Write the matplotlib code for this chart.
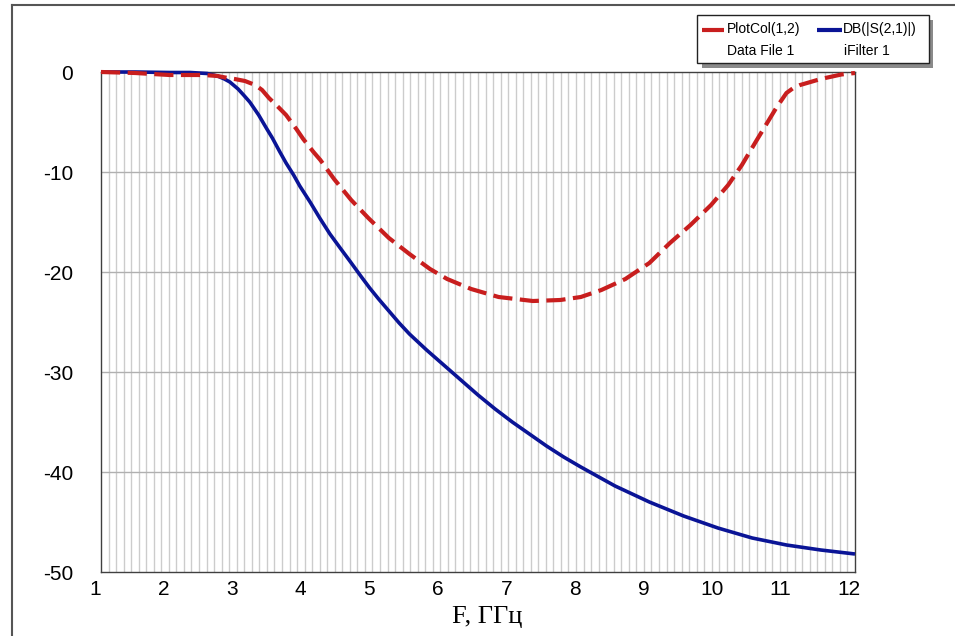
import numpy as np
import matplotlib
matplotlib.use("Agg")
import matplotlib.pyplot as plt
import matplotlib.transforms as mtransforms
from matplotlib.patches import Rectangle
from matplotlib.lines import Line2D

# ---- data ----
red_f = [1.0, 1.5, 2.0, 2.5, 2.7, 2.85, 2.95, 3.1, 3.25, 3.35, 3.45, 3.6, 3.7, 3.85, 3.95, 4.1, 4.2, 4.4,
         4.65, 4.9, 5.2, 5.5, 5.8, 6.05, 6.4, 6.8, 7.3, 7.7, 8.0, 8.3, 8.65, 9.0, 9.3, 9.6, 9.9,
         10.15, 10.35, 10.55, 10.7, 10.85, 11.0, 11.1, 11.2, 11.35, 11.5, 11.8, 12.0]
red_db = [0.0, -0.1, -0.3, -0.3, -0.4, -0.6, -0.7, -0.9, -1.3, -1.8, -2.6, -3.6, -4.3, -5.7, -6.7, -8.0, -8.8, -10.7,
          -12.8, -14.6, -16.6, -18.2, -19.7, -20.7, -21.7, -22.5, -22.9, -22.8, -22.5, -21.8, -20.7, -19.1, -17.1, -15.3, -13.3,
          -11.3, -9.3, -7.0, -5.3, -3.6, -2.1, -1.6, -1.3, -1.0, -0.7, -0.25, -0.1]

blue_f = [1.0, 1.5, 2.0, 2.3, 2.55, 2.7, 2.8, 2.88, 3.0, 3.08, 3.17, 3.3, 3.42, 3.5, 3.61, 3.7, 3.81, 3.9,
          4.05, 4.2, 4.34, 4.5, 4.63, 4.8, 4.92, 5.05, 5.2, 5.35, 5.5, 5.75, 6.0, 6.25, 6.5, 6.75, 7.0, 7.25,
          7.5, 7.75, 8.0, 8.5, 9.0, 9.5, 10.0, 10.5, 11.0, 11.5, 12.0]
blue_db = [0.0, 0.0, -0.05, -0.05, -0.15, -0.4, -0.7, -1.0, -1.7, -2.3, -3.0, -4.3, -5.7, -6.6, -8.0, -9.1, -10.3, -11.4,
           -13.0, -14.7, -16.2, -17.7, -18.9, -20.5, -21.6, -22.7, -23.9, -25.1, -26.2, -27.8, -29.3, -30.8, -32.3, -33.7, -35.0, -36.2,
           -37.4, -38.5, -39.5, -41.4, -43.0, -44.4, -45.6, -46.6, -47.3, -47.8, -48.2]

x_ticks = [1, 2, 3, 4, 5, 6, 7, 8, 9, 10, 11, 12]
y_ticks = [0, -10, -20, -30, -40, -50]
legend_top = ["PlotCol(1,2)", "DB(|S(2,1)|)"]
legend_bottom = ["Data File 1", "iFilter 1"]
x_label = "F, ГГц"

W, H = 955, 636
fig = plt.figure(figsize=(W / 100, H / 100), dpi=100)
fig.patch.set_facecolor("white")

def fx(px):
    return px / W

def fy(py):
    return 1 - py / H

ax = fig.add_axes([fx(101), fy(572), fx(855) - fx(101), fy(72) - fy(572)])
ax.set_xlim(1, 12)
ax.set_ylim(-50, 0)

# grid
for xv in np.linspace(1, 12, 101)[1:-1]:
    ax.axvline(xv, color="#cccccc", lw=1.0, zorder=1)
for yv in y_ticks[1:-1]:
    ax.axhline(yv, color="#b0b0b0", lw=1.0, zorder=1)

ax.plot(blue_f, blue_db, color="#0a1496", lw=2.6, zorder=3, clip_on=False,
        solid_capstyle="butt", solid_joinstyle="round")
ax.plot(red_f, red_db, color="#c81e1e", lw=3.0, zorder=4, clip_on=False,
        linestyle=(0, (4.6, 1.8)), dash_capstyle="butt")

ax.set_xticks(x_ticks)
ax.set_xticklabels([str(t) for t in x_ticks])
ax.set_yticks(y_ticks)
ax.set_yticklabels([str(t) for t in y_ticks])
ax.tick_params(axis="both", length=0, labelsize=15, colors="black")
ax.tick_params(axis="x", pad=6)
ax.tick_params(axis="y", pad=20)
for lab in ax.get_xticklabels() + ax.get_yticklabels():
    lab.set_family(["Liberation Sans", "DejaVu Sans"])
off = mtransforms.ScaledTranslation(-6 / 100, 0, fig.dpi_scale_trans)
for lab in ax.get_xticklabels():
    lab.set_transform(lab.get_transform() + off)

for sp in ax.spines.values():
    sp.set_color("#404040")
    sp.set_linewidth(1.0)

fig.text(fx(487), fy(617), x_label, ha="center", va="center", fontsize=19,
         family=["Liberation Serif", "DejaVu Serif"])

# outer frame
fig.add_artist(Line2D([fx(12), fx(12)], [0, fy(5)], transform=fig.transFigure,
                      color="#555555", lw=1.5))
fig.add_artist(Line2D([fx(12), 1], [fy(5), fy(5)], transform=fig.transFigure,
                      color="#555555", lw=1.5))

# legend box with shadow
fig.add_artist(Rectangle((fx(702), fy(68)), fx(933) - fx(702), fy(20) - fy(68),
                         transform=fig.transFigure, facecolor="#8a8a8a",
                         edgecolor="none", zorder=10))
fig.add_artist(Rectangle((fx(697), fy(63)), fx(929) - fx(697), fy(15) - fy(63),
                         transform=fig.transFigure, facecolor="white",
                         edgecolor="#222222", lw=1.0, zorder=11))
fig.add_artist(Line2D([fx(702), fx(724)], [fy(29.5), fy(29.5)], transform=fig.transFigure,
                      color="#c81e1e", lw=3.0, zorder=12, solid_capstyle="butt"))
fig.add_artist(Line2D([fx(817), fx(842)], [fy(29.5), fy(29.5)], transform=fig.transFigure,
                      color="#0a1496", lw=3.0, zorder=12, solid_capstyle="butt"))
lf = ["Liberation Sans", "DejaVu Sans"]
fig.text(fx(727), fy(29.5), legend_top[0], ha="left", va="center", fontsize=10, family=lf, zorder=12)
fig.text(fx(727), fy(51), legend_bottom[0], ha="left", va="center", fontsize=10, family=lf, zorder=12)
fig.text(fx(843), fy(29.5), legend_top[1], ha="left", va="center", fontsize=10, family=lf, zorder=12)
fig.text(fx(844), fy(51), legend_bottom[1], ha="left", va="center", fontsize=10, family=lf, zorder=12)

fig.savefig("out.png", dpi=100, facecolor="white")
